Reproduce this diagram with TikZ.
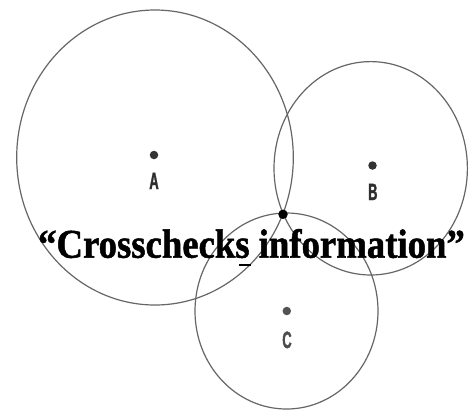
\documentclass[tikz,border=0pt]{standalone}
\usepackage{fontspec}
\setmainfont{Liberation Serif}
\newfontfamily\capfont{Liberation Serif Bold}[FakeBold=1.2,FakeStretch=0.9]
\newfontfamily\labelfont{Liberation Sans Bold}[FakeBold=1.5,FakeStretch=0.55]
\definecolor{ringgray}{HTML}{666666}
\definecolor{dotgray}{HTML}{333333}
\definecolor{letgray}{HTML}{2E2E2E}
\begin{document}
\begin{tikzpicture}[x=1pt,y=-1pt,
  ring/.style={draw=ringgray,line width=1.2pt},
  station/.style={circle,fill=dotgray,inner sep=0pt,minimum size=8.5pt},
  fixpoint/.style={circle,fill=black,inner sep=0pt,minimum size=9.5pt},
  stationlabel/.style={font=\labelfont\fontsize{23.5}{24}\selectfont,
    text=letgray,inner sep=0pt,anchor=base},
  caption/.style={font=\capfont\fontsize{40.8}{41}\selectfont,
    inner sep=0pt,anchor=base}]
  % canvas
  \fill[white] (0,0) rectangle (470,410);
  \useasboundingbox (0,0) rectangle (470,410);

  % range circles around the three stations
  \draw[ring] (155,157.5) ellipse [x radius=138.3, y radius=147.5];
  \draw[ring] (370.7,168.3) ellipse [x radius=96.7, y radius=106.7];
  \draw[ring] (286.5,311) ellipse [x radius=91.5, y radius=98];

  % stations and their names
  \node[station] (a) at (154,155) {};
  \node[station] (b) at (372.5,165.5) {};
  \node[station,fill=dotgray!85] (c) at (286.8,311) {};
  \node[stationlabel] (la) at (154,189) {A};
  \node[stationlabel] (lb) at (372.8,200) {B};
  \node[stationlabel,text=letgray!85] (lc) at (287,348) {C};

  % common point of the three circles
  \node[fixpoint] (fix) at (283,214.3) {};

  % caption
  \node[caption] (cap) at (251.5,257.7) {“Crosschecks information”};
  \draw[line width=1.8pt] (239,264.6) -- (250.5,264.6);
\end{tikzpicture}
\end{document}
